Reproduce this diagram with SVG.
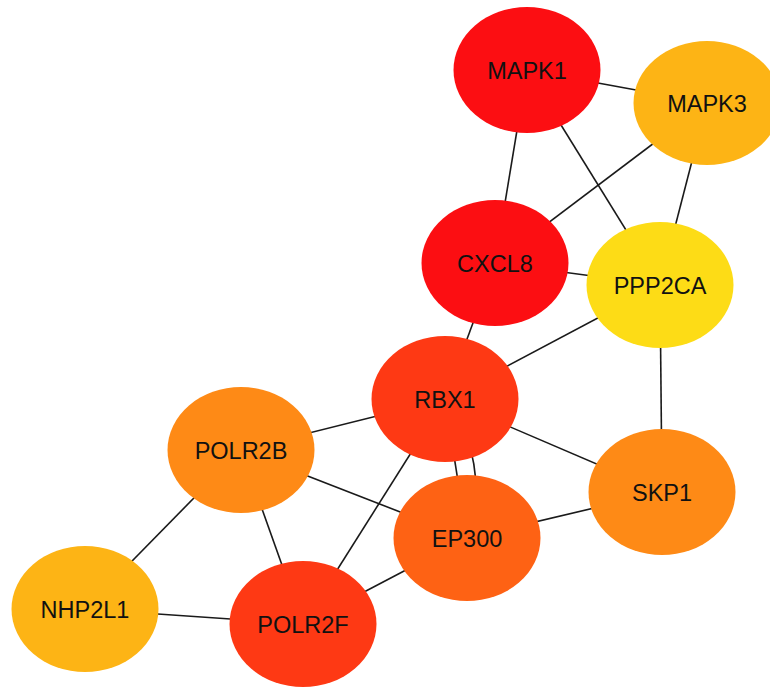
<svg xmlns="http://www.w3.org/2000/svg" width="770" height="688" viewBox="0 0 770 688">
<style>
.e{stroke:#1a1a1a;stroke-width:1.6;fill:none}
.n{stroke:none}
.t{font-family:"Liberation Sans",Arial,sans-serif;font-size:23.5px;fill:#111;text-anchor:middle}
</style>
<rect width="770" height="688" fill="#fff"/>
<g id="edges">
<line class="e" x1="527" y1="70" x2="707" y2="103"/>
<line class="e" x1="527" y1="70" x2="495" y2="263"/>
<line class="e" x1="527" y1="70" x2="660" y2="285"/>
<line class="e" x1="707" y1="103" x2="495" y2="263"/>
<line class="e" x1="707" y1="103" x2="660" y2="285"/>
<line class="e" x1="495" y1="263" x2="660" y2="285"/>
<line class="e" x1="495" y1="263" x2="445" y2="399"/>
<line class="e" x1="660" y1="285" x2="445" y2="399"/>
<line class="e" x1="660" y1="285" x2="662" y2="492"/>
<line class="e" x1="445" y1="399" x2="241" y2="450"/>
<line class="e" x1="445" y1="399" x2="662" y2="492"/>
<line class="e" x1="445" y1="399" x2="467" y2="538"/>
<path class="e" d="M445,399 Q492,462 467,538"/>
<line class="e" x1="445" y1="399" x2="303" y2="624"/>
<line class="e" x1="241" y1="450" x2="467" y2="538"/>
<line class="e" x1="241" y1="450" x2="85" y2="609"/>
<line class="e" x1="241" y1="450" x2="303" y2="624"/>
<line class="e" x1="85" y1="609" x2="303" y2="624"/>
<line class="e" x1="303" y1="624" x2="467" y2="538"/>
<line class="e" x1="467" y1="538" x2="662" y2="492"/>
</g>
<g id="MAPK1"><ellipse class="n" cx="527" cy="70" rx="73.5" ry="63" fill="#FC0E12"/><text class="t" x="527" y="78.5">MAPK1</text></g>
<g id="MAPK3"><ellipse class="n" cx="707" cy="103" rx="73.5" ry="62" fill="#FDB415"/><text class="t" x="707" y="111.5">MAPK3</text></g>
<g id="CXCL8"><ellipse class="n" cx="495" cy="263" rx="73.5" ry="63" fill="#FC0E12"/><text class="t" x="495" y="271.5">CXCL8</text></g>
<g id="PPP2CA"><ellipse class="n" cx="660" cy="285" rx="73.5" ry="63" fill="#FDDC16"/><text class="t" x="660" y="293.5">PPP2CA</text></g>
<g id="RBX1"><ellipse class="n" cx="445" cy="399" rx="73.5" ry="63" fill="#FE3914"/><text class="t" x="445" y="407.5">RBX1</text></g>
<g id="POLR2B"><ellipse class="n" cx="241" cy="450" rx="73.5" ry="63" fill="#FE8A16"/><text class="t" x="241" y="458.5">POLR2B</text></g>
<g id="SKP1"><ellipse class="n" cx="662" cy="492" rx="73.5" ry="63" fill="#FE8A16"/><text class="t" x="662" y="500.5">SKP1</text></g>
<g id="EP300"><ellipse class="n" cx="467" cy="538" rx="73.5" ry="63" fill="#FE6214"/><text class="t" x="467" y="546.5">EP300</text></g>
<g id="NHP2L1"><ellipse class="n" cx="85" cy="609" rx="73.5" ry="63" fill="#FDB415"/><text class="t" x="85" y="617.5">NHP2L1</text></g>
<g id="POLR2F"><ellipse class="n" cx="303" cy="624" rx="73.5" ry="63" fill="#FE3914"/><text class="t" x="303" y="632.5">POLR2F</text></g>
</svg>
